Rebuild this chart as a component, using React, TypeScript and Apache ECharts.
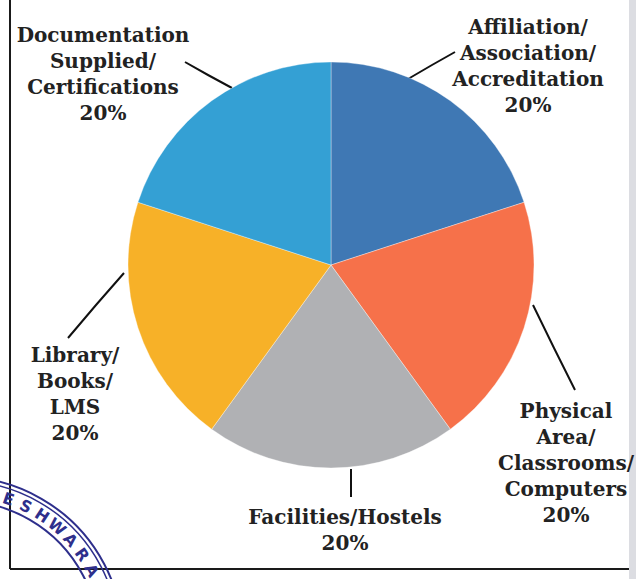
import React, { useEffect, useRef } from "react";
import * as echarts from "echarts";

const categories = [
  "Affiliation/\nAssociation/\nAccreditation",
  "Physical\nArea/\nClassrooms/\nComputers",
  "Facilities/Hostels",
  "Library/\nBooks/\nLMS",
  "Documentation\nSupplied/\nCertifications",
];
const values = [20, 20, 20, 20, 20];
const colors = ["#3f78b4", "#f6714a", "#b0b1b4", "#f7b128", "#34a0d4"];

// label anchor (center-top) and label-line points, layout only
const labelPos = [
  { x: 528, y: 14, line: [[408, 79], [432, 65], [455, 52]] },
  { x: 566, y: 398, line: [[533, 305], [554, 348], [575, 390]] },
  { x: 345, y: 504, line: [[351, 469], [351, 483], [351, 497]] },
  { x: 75, y: 342, line: [[124, 273], [96, 305], [68, 338]] },
  { x: 103, y: 22, line: [[232, 88], [208, 75], [185, 62]] },
];

const sealLetters = ["E", "S", "H", "W", "A", "R", "A"];

export default function App() {
  const ref = useRef<HTMLDivElement>(null);
  useEffect(() => {
    if (!ref.current) return;
    const chart = echarts.init(ref.current, null, { renderer: "svg" });
    const sc = [-40, 640];
    const sealText = sealLetters.map((ch, i) => {
      const a = ((19 + i * 7.2) * Math.PI) / 180;
      const r = 149;
      return {
        type: "text",
        x: sc[0] + r * Math.sin(a),
        y: sc[1] - r * Math.cos(a),
        rotation: -a,
        style: {
          text: ch,
          fill: "#2e2f8c",
          font: "bold 16px 'DejaVu Sans'",
          align: "center",
          verticalAlign: "middle",
        },
        z: 1,
      };
    });
    chart.setOption({
      animation: false,
      backgroundColor: "#ffffff",
      graphic: [
        { type: "line", shape: { x1: 10, y1: 0, x2: 10, y2: 569 }, style: { stroke: "#1a1a1a", lineWidth: 2 } },
        { type: "line", shape: { x1: 10, y1: 569, x2: 636, y2: 569 }, style: { stroke: "#1a1a1a", lineWidth: 2 } },
        { type: "rect", shape: { x: 629, y: 0, width: 7, height: 579 }, style: { fill: "#dcdde2" } },
        { type: "circle", shape: { cx: sc[0], cy: sc[1], r: 163 }, style: { fill: "none", stroke: "#2e2f8c", lineWidth: 2 } },
        { type: "circle", shape: { cx: sc[0], cy: sc[1], r: 159 }, style: { fill: "none", stroke: "#2e2f8c", lineWidth: 1.5 } },
        { type: "circle", shape: { cx: sc[0], cy: sc[1], r: 139 }, style: { fill: "none", stroke: "#2e2f8c", lineWidth: 2 } },
        ...sealText,
      ],
      series: [
        {
          type: "pie",
          center: [331, 265],
          radius: 203,
          startAngle: 90,
          clockwise: true,
          data: categories.map((name, i) => ({
            name,
            value: values[i],
            itemStyle: { color: colors[i] },
          })),
          itemStyle: { borderColor: "rgba(255,255,255,0.35)", borderWidth: 1 },
          label: {
            show: true,
            position: "outside",
            formatter: (p: any) => `${p.name}\n${Math.round(p.percent)}%`,
            fontFamily: "'DejaVu Serif'",
            fontSize: 20,
            fontWeight: "bold",
            lineHeight: 26,
            color: "#222222",
            align: "center",
            overflow: "none",
            width: 300,
          },
          labelLine: { show: true, lineStyle: { color: "#111111", width: 2 } },
          labelLayout: (params: any) => {
            const p = labelPos[params.dataIndex];
            return {
              x: p.x,
              y: p.y,
              align: "center",
              verticalAlign: "top",
              labelLinePoints: p.line,
            };
          },
          emphasis: { disabled: true },
        },
      ],
    });
    return () => chart.dispose();
  }, []);
  return (
    <div
      ref={ref}
      style={{ position: "fixed", left: 0, top: 0, width: 636, height: 579 }}
    />
  );
}
